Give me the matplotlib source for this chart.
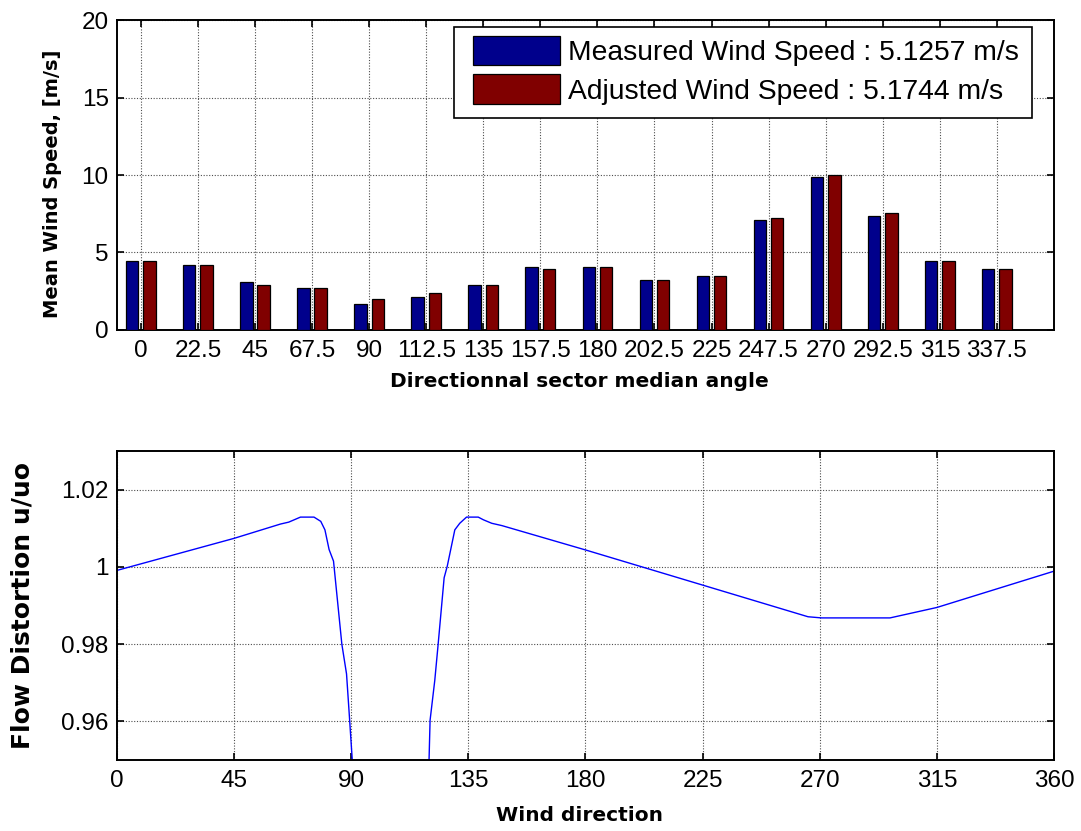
import numpy as np
import matplotlib.pyplot as plt
from matplotlib.patches import Rectangle

# directional sectors (top plot)
sectors = [0, 22.5, 45, 67.5, 90, 112.5, 135, 157.5, 180, 202.5, 225, 247.5, 270, 292.5, 315, 337.5]
sector_labels = ['0', '22.5', '45', '67.5', '90', '112.5', '135', '157.5', '180',
                 '202.5', '225', '247.5', '270', '292.5', '315', '337.5']
measured = [4.48, 4.19, 3.08, 2.69, 1.69, 2.11, 2.93, 4.04, 4.04, 3.21, 3.50, 7.09, 9.87, 7.37, 4.48, 3.91]
adjusted = [4.48, 4.19, 2.93, 2.69, 1.97, 2.37, 2.93, 3.91, 4.04, 3.21, 3.50, 7.22, 10.0, 7.52, 4.48, 3.91]
measured_mean = 5.1257
adjusted_mean = 5.1744

# flow distortion curve (bottom plot)
wind_dir = [0, 45, 62.8, 66.0, 70.5, 75.7, 78.3, 79.9, 81.5, 83.2, 86.4, 88.2, 89.4, 90.4, 105,
            119.9, 120.3, 122.1, 123.4, 125.7, 126.9, 129.8, 131.7, 134.3, 138.8, 140.8, 144.0,
            147.9, 180, 225, 265.5, 270.7, 297, 315, 360]
distortion = [0.9991, 1.0074, 1.0111, 1.0116, 1.0129, 1.0129, 1.0118, 1.0096, 1.0045, 1.0015,
              0.9800, 0.9723, 0.9603, 0.9500, 0.80,
              0.9500, 0.9603, 0.9706, 0.9800, 0.9972, 1.0002, 1.0096, 1.0113, 1.0129, 1.0129,
              1.0122, 1.0113, 1.0107, 1.0044, 0.9953, 0.9871, 0.9868, 0.9868, 0.9895, 0.9989]

plt.rcParams['font.family'] = ['Liberation Sans', 'DejaVu Sans']
label_font = dict(family='DejaVu Sans', weight='bold')

fig = plt.figure(figsize=(10.81, 8.31), dpi=100)
ax1 = fig.add_axes([0.1082, 0.6029, 0.8668, 0.3730])
ax2 = fig.add_axes([0.1082, 0.0854, 0.8668, 0.3718])

grid_style = dict(color='0.3', linestyle=(0, (1, 1.5)), linewidth=0.8)

for ax in (ax1, ax2):
    for s in ax.spines.values():
        s.set_linewidth(1.4)
    ax.tick_params(direction='in', top=True, right=True, length=5, width=1.2,
                   labelsize=17.5)
    ax.tick_params(axis='x', pad=7)
    ax.tick_params(axis='y', pad=6)
    ax.grid(True, **grid_style)
    ax.set_axisbelow(True)

# top: bars
x = np.array(sectors)
w = 4.9
ax1.bar(x - 3.4, measured, width=w, color='#00008c', edgecolor='black', linewidth=0.9,
        label='Measured Wind Speed : %.4f m/s' % measured_mean, zorder=3)
ax1.bar(x + 3.4, adjusted, width=w, color='#800000', edgecolor='black', linewidth=0.9,
        label='Adjusted Wind Speed : %.4f m/s' % adjusted_mean, zorder=3)
ax1.set_xlim(-9.4, 360)
ax1.set_ylim(0, 20)
ax1.set_xticks(sectors)
ax1.set_xticklabels(sector_labels)
ax1.set_yticks([0, 5, 10, 15, 20])
ax1.set_xlabel('Directionnal sector median angle', fontsize=14.5, **label_font)
ax1.set_ylabel('Mean Wind Speed, [m/s]', fontsize=14, **label_font)
ax1.xaxis.set_label_coords(0.493, -0.135)
ax1.yaxis.set_label_coords(-0.0587, 0.471)

# legend box drawn as a plain white rectangle with black edge
box = Rectangle((0.3596, 0.6839), 0.9765 - 0.3596, 0.9774 - 0.6839,
                transform=ax1.transAxes, facecolor='white', edgecolor='black',
                linewidth=1.2, zorder=4)
ax1.add_patch(box)
leg = ax1.legend(loc='upper left', bbox_to_anchor=(0.380, 0.950), fontsize=20.3,
                 handlelength=3.1, handleheight=1.25, handletextpad=0.28,
                 labelspacing=0.3, borderpad=0, borderaxespad=0, frameon=False)
leg.set_zorder(5)

# bottom: flow distortion
ax2.plot(wind_dir, distortion, color='#0000ff', linewidth=1.0)
ax2.set_xlim(0, 360)
ax2.set_ylim(0.95, 1.03)
ax2.set_xticks([0, 45, 90, 135, 180, 225, 270, 315, 360])
ax2.set_yticks([0.96, 0.98, 1.0, 1.02])
ax2.set_yticklabels(['0.96', '0.98', '1', '1.02'])
ax2.set_xlabel('Wind direction', fontsize=14.5, **label_font)
ax2.set_ylabel('Flow Distortion u/uo', fontsize=18, **label_font)
ax2.xaxis.set_label_coords(0.494, -0.149)
ax2.yaxis.set_label_coords(-0.0875, 0.5)

fig.savefig('out.png', dpi=100, facecolor='white')
